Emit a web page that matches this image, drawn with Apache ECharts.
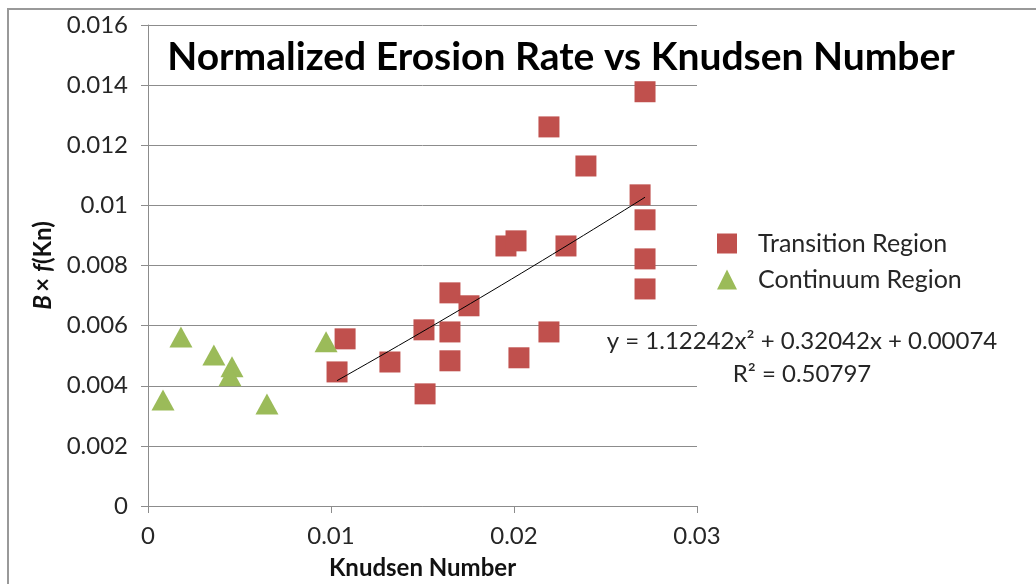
<!DOCTYPE html>
<html>
<head>
<meta charset="utf-8">
<title>Normalized Erosion Rate vs Knudsen Number</title>
<script src="https://cdn.jsdelivr.net/npm/echarts@6/dist/echarts.min.js"></script>
<style>
  html, body { margin: 0; padding: 0; background: #fff; }
  #chart { width: 1036px; height: 584px; }
</style>
</head>
<body>
<div id="chart"></div>
<script>
// Transition region (red squares)
var transitionKn = [0.02716, 0.02191, 0.02393, 0.02689, 0.02716, 0.02716, 0.02716,
  0.01956, 0.02011, 0.02284, 0.0165, 0.01754, 0.01508, 0.0165, 0.02191,
  0.01077, 0.01033, 0.01322, 0.0165, 0.02027, 0.01514]
var transitionRate = [0.01378, 0.01261, 0.01131, 0.01035, 0.00952, 0.00822, 0.00722,
  0.00865, 0.00882, 0.00865, 0.00709, 0.00666, 0.00586, 0.00579, 0.00579,
  0.00556, 0.00446, 0.00479, 0.00483, 0.00493, 0.00373]

// Continuum region (green triangles)
var continuumKn = [0.00082, 0.0018, 0.0036, 0.00459, 0.00448, 0.0065, 0.00973]
var continuumRate = [0.00353, 0.00562, 0.00502, 0.00463, 0.00433, 0.00339, 0.00546]

// polynomial trendline printed on the chart: a*x^2 + b*x + c
var trendCoef = [1.12242, 0.32042, 0.00074]
var trendLabel = 'y = 1.12242x² + 0.32042x + 0.00074'
var r2Label = 'R² = 0.50797'

var seriesNames = ['Transition Region', 'Continuum Region']

function zip (xs, ys) {
  return xs.map(function (x, i) { return [x, ys[i]] })
}

// trendline runs over the transition data range
function trendPoints () {
  var lo = Math.min.apply(null, transitionKn)
  var hi = Math.max.apply(null, transitionKn)
  var pts = []
  for (var i = 0; i <= 30; i++) {
    var x = lo + (hi - lo) * i / 30
    pts.push([x, trendCoef[0] * x * x + trendCoef[1] * x + trendCoef[2]])
  }
  return pts
}

function tickText (v) {
  return String(parseFloat(v.toFixed(3)))
}

var font = 'Lato'
var gridColor = '#8c8c8c'
var textColor = '#262626'

var chart = echarts.init(document.getElementById('chart'))
chart.setOption({
  animation: false,
  backgroundColor: '#fff',
  grid: { left: 148, top: 25, right: 339, bottom: 78, outerBoundsMode: 'none', containLabel: false },
  legend: {
    orient: 'vertical',
    left: 712,
    top: 226,
    itemWidth: 20,
    itemHeight: 20,
    itemGap: 11,
    data: seriesNames,
    textStyle: { fontFamily: font, fontSize: 25, color: textColor, padding: [0, 0, 0, 16] }
  },
  xAxis: {
    type: 'value',
    min: 0,
    max: 0.03,
    interval: 0.01,
    name: 'Knudsen Number',
    nameLocation: 'middle',
    nameGap: 50,
    nameTextStyle: { fontFamily: font, fontSize: 24, fontWeight: 'bold', color: '#111' },
    axisLine: { show: true, lineStyle: { color: gridColor, width: 1 } },
    axisTick: { show: true, length: 7, lineStyle: { color: gridColor } },
    splitLine: { show: false },
    axisLabel: { margin: 18, fontFamily: font, fontSize: 24, color: textColor, formatter: tickText }
  },
  yAxis: {
    type: 'value',
    min: 0,
    max: 0.016,
    interval: 0.002,
    name: '{bi|B} {b|× }{bi|f}{b|(Kn)}',
    nameLocation: 'middle',
    nameRotate: 90,
    nameGap: 89,
    nameTextStyle: {
      rich: {
        b: { fontFamily: font, fontSize: 24, fontWeight: 'bold', color: '#111' },
        bi: { fontFamily: font, fontSize: 24, fontWeight: 'bold', fontStyle: 'italic', color: '#111' }
      }
    },
    axisLine: { show: true, lineStyle: { color: gridColor, width: 1 } },
    axisTick: { show: true, length: 7, lineStyle: { color: gridColor } },
    splitLine: { show: true, lineStyle: { color: gridColor, width: 1 } },
    axisLabel: { margin: 20, fontFamily: font, fontSize: 24, color: textColor, formatter: tickText }
  },
  series: [
    {
      name: seriesNames[0],
      type: 'scatter',
      symbol: 'rect',
      symbolSize: 21,
      itemStyle: { color: '#C0504D', opacity: 1 },
      data: zip(transitionKn, transitionRate),
      z: 3
    },
    {
      name: seriesNames[1],
      type: 'scatter',
      symbol: 'triangle',
      symbolSize: [23, 21],
      itemStyle: { color: '#9BBB59', opacity: 1 },
      data: zip(continuumKn, continuumRate),
      z: 3
    },
    {
      name: 'trend',
      type: 'line',
      showSymbol: false,
      symbol: 'none',
      lineStyle: { color: '#000', width: 1 },
      data: trendPoints(),
      z: 4,
      silent: true
    }
  ],
  graphic: [
    {
      type: 'rect',
      shape: { x: 8, y: 9, width: 1100, height: 700 },
      style: { fill: 'none', stroke: '#999', lineWidth: 2 },
      silent: true
    },
    {
      type: 'text',
      x: 561, y: 57,
      style: {
        text: 'Normalized Erosion Rate vs Knudsen Number',
        fontFamily: font, fontSize: 39, fontWeight: 'bold', fill: '#000',
        textAlign: 'center', textVerticalAlign: 'middle'
      }
    },
    {
      type: 'text',
      x: 802, y: 341,
      style: {
        text: trendLabel,
        fontFamily: font, fontSize: 24, fill: textColor,
        textAlign: 'center', textVerticalAlign: 'middle'
      }
    },
    {
      type: 'text',
      x: 802, y: 374,
      style: {
        text: r2Label,
        fontFamily: font, fontSize: 24, fill: textColor,
        textAlign: 'center', textVerticalAlign: 'middle'
      }
    }
  ]
})
</script>
</body>
</html>
